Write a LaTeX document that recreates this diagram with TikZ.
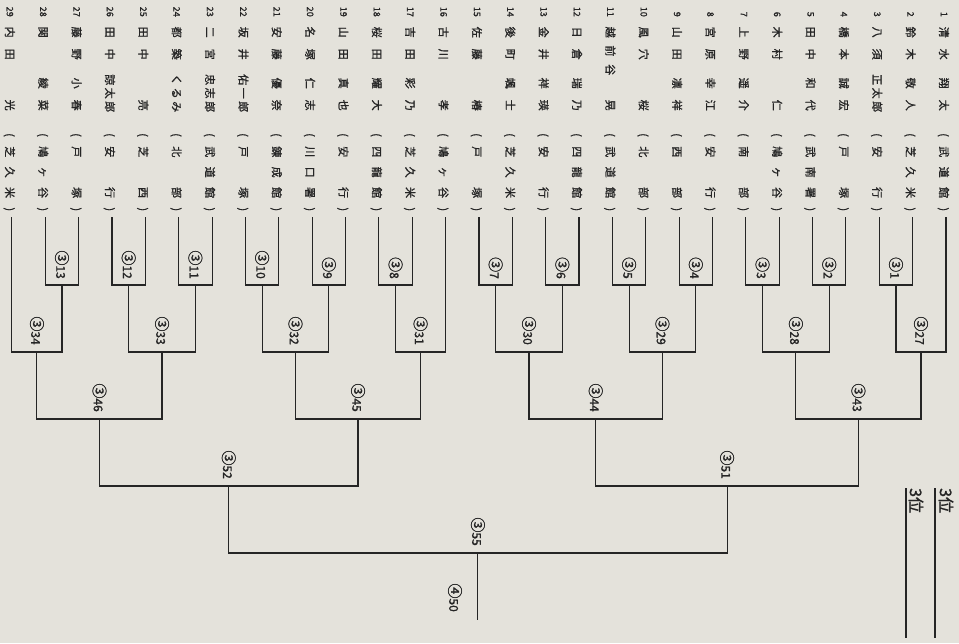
\documentclass[tikz,border=0pt]{standalone}
\usepackage{fontspec}
\newfontfamily\jp[FakeBold=1.2]{Noto Sans CJK JP}
\usetikzlibrary{calc}
\definecolor{paper}{HTML}{E4E2DB}
\definecolor{ink}{HTML}{252525}
\tikzset{
  txt/.style={rotate=-90, inner sep=0pt, text=ink, font=\jp\fontsize{11}{11}\selectfont, text height=9.68pt, text depth=1.32pt},
  fldw/.style={txt, anchor=west},
  numlbl/.style={rotate=-90, inner sep=0pt, anchor=east, text=ink, font=\jp\fontsize{9}{9}\selectfont},
  mlbl/.style={rotate=-90, inner sep=0pt, anchor=east, text=ink, font=\jp\fontsize{12}{12}\selectfont},
  rank/.style={rotate=-90, inner sep=0pt, anchor=west, text=ink, font=\jp\fontsize{16}{16}\selectfont},
  brk/.style={draw=ink, line width=1.1pt},
  rankline/.style={draw=ink, line width=1.5pt},
}
\newcommand\cthree[3]{(\hfill #1\hfill #2\hfill #3\hfill )}
\newcommand\ctwo[2]{(\hfill #1\hfill\hphantom{#1}\hfill #2\hfill )}
\newcommand\cn[1]{{\fontsize{15}{15}\selectfont ③}#1}
\newcommand\cnf[1]{{\fontsize{15}{15}\selectfont ④}#1}
\newcommand\entry[7]{%
  \pgfmathsetmacro\ex{946-(#1-1)*33.36}%
  \coordinate (e#1) at (\ex,217);
  \node[numlbl] (n#1) at (\ex-2,17) {#1};
  \node[fldw] (s#1) at (\ex-2,26.5) {\makebox[#2pt]{#3}};
  \node[fldw] (g#1) at (\ex-2,#4) {\makebox[#5pt]{#6}};
  \node[fldw] (c#1) at (\ex-2,133) {\makebox[78pt]{#7}};
}
\begin{document}
\begin{tikzpicture}[x=1pt,y=-1pt]
\fill[paper] (0,0) rectangle (959,643);
\useasboundingbox (0,0) rectangle (959,643);

\entry{1}{33}{清\hfill 水}{77.5}{33}{翔\hfill 太}{\cthree{武}{道}{館}}
\entry{2}{33}{鈴\hfill 木}{77.5}{33}{敬\hfill 人}{\cthree{芝}{久}{米}}
\entry{3}{33}{八\hfill 須}{74}{38}{正\hfill 太\hfill 郎}{\ctwo{安}{行}}
\entry{4}{33}{橋\hfill 本}{77.5}{33}{誠\hfill 宏}{\ctwo{戸}{塚}}
\entry{5}{33}{田\hfill 中}{77.5}{33}{和\hfill 代}{\cthree{武}{南}{署}}
\entry{6}{33}{木\hfill 村}{99.5}{11}{仁}{\cthree{鳩}{ヶ}{谷}}
\entry{7}{33}{上\hfill 野}{77.5}{33}{遥\hfill 介}{\ctwo{南}{部}}
\entry{8}{33}{宮\hfill 原}{77.5}{33}{幸\hfill 江}{\ctwo{安}{行}}
\entry{9}{33}{山\hfill 田}{77.5}{33}{凛\hfill 祥}{\ctwo{西}{部}}
\entry{10}{33}{風\hfill 穴}{99.5}{11}{桜}{\ctwo{北}{部}}
\entry{11}{48.5}{越\hfill 前\hfill 谷}{99.5}{11}{晃}{\cthree{武}{道}{館}}
\entry{12}{33}{日\hfill 倉}{77.5}{33}{瑞\hfill 乃}{\cthree{四}{龍}{館}}
\entry{13}{33}{金\hfill 井}{77.5}{33}{祥\hfill 瑛}{\ctwo{安}{行}}
\entry{14}{33}{後\hfill 町}{77.5}{33}{颯\hfill 士}{\cthree{芝}{久}{米}}
\entry{15}{33}{佐\hfill 藤}{99.5}{11}{椿}{\ctwo{戸}{塚}}
\entry{16}{33}{古\hfill 川}{99.5}{11}{孝}{\cthree{鳩}{ヶ}{谷}}
\entry{17}{33}{吉\hfill 田}{77.5}{33}{彩\hfill 乃}{\cthree{芝}{久}{米}}
\entry{18}{33}{桜\hfill 田}{77.5}{33}{耀\hfill 大}{\cthree{四}{龍}{館}}
\entry{19}{33}{山\hfill 田}{77.5}{33}{真\hfill 也}{\ctwo{安}{行}}
\entry{20}{33}{名\hfill 塚}{77.5}{33}{仁\hfill 志}{\cthree{川}{口}{署}}
\entry{21}{33}{安\hfill 藤}{77.5}{33}{優\hfill 奈}{\cthree{錬}{成}{館}}
\entry{22}{33}{坂\hfill 井}{74}{38}{佑\hfill 一\hfill 郎}{\ctwo{戸}{塚}}
\entry{23}{33}{二\hfill 宮}{74}{38}{忠\hfill 志\hfill 郎}{\cthree{武}{道}{館}}
\entry{24}{33}{都\hfill 築}{74}{38}{く\hfill る\hfill み}{\ctwo{北}{部}}
\entry{25}{33}{田\hfill 中}{99.5}{11}{亮}{\ctwo{芝}{西}}
\entry{26}{33}{田\hfill 中}{74}{38}{諒\hfill 太\hfill 郎}{\ctwo{安}{行}}
\entry{27}{33}{藤\hfill 野}{77.5}{33}{小\hfill 春}{\ctwo{戸}{塚}}
\entry{28}{33}{関\hfill}{77.5}{33}{綾\hfill 菜}{\cthree{鳩}{ヶ}{谷}}
\entry{29}{33}{内\hfill 田}{99.5}{11}{光}{\cthree{芝}{久}{米}}

% round 1
\coordinate (m1) at (895.96,285);
\coordinate (m2) at (829.24,285);
\coordinate (m3) at (762.52,285);
\coordinate (m4) at (695.8,285);
\coordinate (m5) at (629.08,285);
\coordinate (m6) at (562.36,285);
\coordinate (m7) at (495.64,285);
\coordinate (m8) at (395.56,285);
\coordinate (m9) at (328.84,285);
\coordinate (m10) at (262.12,285);
\coordinate (m11) at (195.4,285);
\coordinate (m12) at (128.68,285);
\coordinate (m13) at (61.96,285);
% round 2
\coordinate (m27) at (920.98,352);
\coordinate (m28) at (795.88,352);
\coordinate (m29) at (662.44,352);
\coordinate (m30) at (529,352);
\coordinate (m31) at (420.58,352);
\coordinate (m32) at (295.48,352);
\coordinate (m33) at (162.04,352);
\coordinate (m34) at (36.94,352);
% round 3
\coordinate (m43) at (858.43,419);
\coordinate (m44) at (595.72,419);
\coordinate (m45) at (358.03,419);
\coordinate (m46) at (99.49,419);
% round 4
\coordinate (m51) at (727.08,486);
\coordinate (m52) at (228.76,486);
% final
\coordinate (m55) at (477.92,553);
\coordinate (fin) at (477.92,620);

\draw[brk] (e3) |- (m1) -| (e2);
\draw[brk] (e5) |- (m2) -| (e4);
\draw[brk] (e7) |- (m3) -| (e6);
\draw[brk] (e9) |- (m4) -| (e8);
\draw[brk] (e11) |- (m5) -| (e10);
\draw[brk] (e13) |- (m6) -| (e12);
\draw[brk] (e15) |- (m7) -| (e14);
\draw[brk] (e18) |- (m8) -| (e17);
\draw[brk] (e20) |- (m9) -| (e19);
\draw[brk] (e22) |- (m10) -| (e21);
\draw[brk] (e24) |- (m11) -| (e23);
\draw[brk] (e26) |- (m12) -| (e25);
\draw[brk] (e28) |- (m13) -| (e27);

\draw[brk] (e1) |- (m27) -| (m1);
\draw[brk] (m2) |- (m28) -| (m3);
\draw[brk] (m4) |- (m29) -| (m5);
\draw[brk] (m6) |- (m30) -| (m7);
\draw[brk] (e16) |- (m31) -| (m8);
\draw[brk] (m9) |- (m32) -| (m10);
\draw[brk] (m11) |- (m33) -| (m12);
\draw[brk] (m13) |- (m34) -| (e29);

\draw[brk] (m27) |- (m43) -| (m28);
\draw[brk] (m29) |- (m44) -| (m30);
\draw[brk] (m31) |- (m45) -| (m32);
\draw[brk] (m33) |- (m46) -| (m34);

\draw[brk] (m43) |- (m51) -| (m44);
\draw[brk] (m45) |- (m52) -| (m46);

\draw[brk] (m51) |- (m55) -| (m52);
\draw[brk] (m55) -- (fin);

% match labels
\foreach \k in {1,...,13} {
  \node[mlbl] (L\k) at ([yshift=6pt]m\k) {\cn{\k}};
}
\foreach \k in {27,28,29,30,31,32,33,34,43,44,45,46,51,52,55} {
  \node[mlbl] (L\k) at ([yshift=7pt]m\k) {\cn{\k}};
}
\node[mlbl] (L50) at (455,612) {\cnf{50}};

% third place
\coordinate (r1a) at (906,488);
\coordinate (r1b) at (906,638);
\coordinate (r2a) at (935,488);
\coordinate (r2b) at (935,638);
\draw[rankline] (r1a) -- (r1b);
\draw[rankline] (r2a) -- (r2b);
\node[rank] (R1) at (916,488) {3位};
\node[rank] (R2) at (946,488) {3位};
\end{tikzpicture}
\end{document}
